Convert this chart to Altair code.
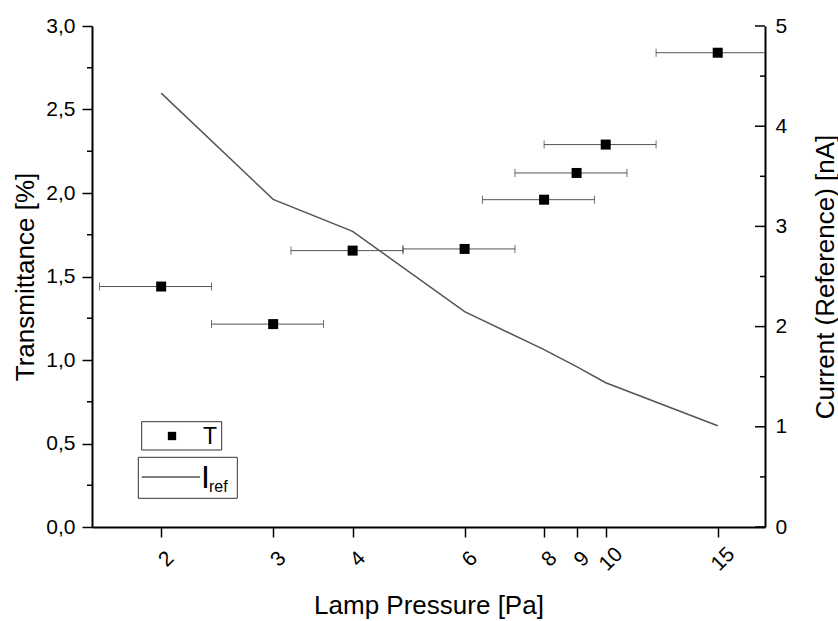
import altair as alt
import pandas as pd

# ---- data ----
pressure = [2, 3, 4, 6, 8, 9, 10, 15]
transmittance = [1.44, 1.215, 1.655, 1.665, 1.96, 2.12, 2.29, 2.84]
pressure_err = [0.4, 0.6, 0.8, 1.2, 1.6, 1.8, 2.0, 3.0]
current_ref = [4.33, 3.27, 2.95, 2.15, 1.77, 1.60, 1.44, 1.01]

x_ticks = [2, 3, 4, 6, 8, 9, 10, 15]
x_domain = [1.557, 17.8]
left_major = [0, 0.5, 1.0, 1.5, 2.0, 2.5, 3.0]
left_minor = [0.25, 0.75, 1.25, 1.75, 2.25, 2.75]
right_major = [0, 1, 2, 3, 4, 5]
right_minor = [0.5, 1.5, 2.5, 3.5, 4.5]

W, H = 673, 501
FONT = "Liberation Sans"

df = pd.DataFrame({
    "p": pressure,
    "T": transmittance,
    "lo": [p - e for p, e in zip(pressure, pressure_err)],
    "hi": [p + e for p, e in zip(pressure, pressure_err)],
    "I": current_ref,
})
caps = pd.concat([
    pd.DataFrame({"x": df["lo"], "T": df["T"]}),
    pd.DataFrame({"x": df["hi"], "T": df["T"]}),
])

xscale = alt.Scale(type="log", domain=x_domain, nice=False)
lscale = alt.Scale(domain=[0, 3], nice=False)
rscale = alt.Scale(domain=[0, 5], nice=False)

xaxis = alt.Axis(
    values=x_ticks, title="Lamp Pressure [Pa]", labelAngle=315,
    labelAlign="center", labelBaseline="middle", labelPadding=22, labelOffset=5,
    tickSize=10, grid=False, titleY=86, titleBaseline="alphabetic",
)
laxis = alt.Axis(
    values=left_major, title="Transmittance [%]", tickSize=10, labelPadding=7,
    grid=False, titleX=-59, titleBaseline="alphabetic",
    labelExpr="replace(format(datum.value, '.1f'), '.', ',')",
)
raxis = alt.Axis(
    values=right_major, orient="right", title="Current (Reference) [nA]",
    ticks=False, labelPadding=10, grid=False, format="d",
    titleX=68, titleBaseline="alphabetic", titleAngle=270,
)

base = alt.Chart(df)

# ---- transmittance (left axis) ----
err = base.mark_rule(color="#555555", strokeWidth=1, clip=True).encode(
    x=alt.X("lo:Q", scale=xscale, axis=xaxis),
    x2="hi:Q",
    y=alt.Y("T:Q", scale=lscale, axis=None),
)
capm = alt.Chart(caps).mark_tick(orient="vertical", size=8, thickness=1,
                                  color="#333333", clip=True).encode(
    x=alt.X("x:Q", scale=xscale, axis=xaxis),
    y=alt.Y("T:Q", scale=lscale, axis=None),
)
pts = base.mark_square(size=100, color="black", opacity=1).encode(
    x=alt.X("p:Q", scale=xscale, axis=xaxis),
    y=alt.Y("T:Q", scale=lscale, axis=laxis),
)
lminor = alt.Chart(pd.DataFrame({"v": left_minor})).mark_rule(
    color="black", strokeWidth=1.5).encode(
    y=alt.Y("v:Q", scale=lscale, axis=None),
    x=alt.value(-5), x2=alt.value(0),
)

# ---- reference current (right axis) ----
line = base.mark_line(color="#555555", strokeWidth=1.5).encode(
    x=alt.X("p:Q", scale=xscale, axis=xaxis),
    y=alt.Y("I:Q", scale=rscale, axis=raxis),
)
rmajor = alt.Chart(pd.DataFrame({"v": right_major})).mark_rule(
    color="black", strokeWidth=1.5).encode(
    y=alt.Y("v:Q", scale=rscale, axis=None),
    x=alt.value(W - 10), x2=alt.value(W),
)
rminor = alt.Chart(pd.DataFrame({"v": right_minor})).mark_rule(
    color="black", strokeWidth=1.5).encode(
    y=alt.Y("v:Q", scale=rscale, axis=None),
    x=alt.value(W - 5), x2=alt.value(W),
)

# ---- legend (drawn boxes) ----
one = alt.Data(values=[{"k": 1}])
box1 = alt.Chart(one).mark_rect(fill="white", stroke="#333333", strokeWidth=1).encode(
    x=alt.value(49.7), x2=alt.value(129.7), y=alt.value(395.7), y2=alt.value(424))
sq = alt.Chart(one).mark_square(size=70, color="black", opacity=1).encode(
    x=alt.value(80), y=alt.value(410))
t1 = alt.Chart(one).mark_text(text="T", font=FONT, fontSize=23, align="left",
                               baseline="alphabetic", color="black").encode(
    x=alt.value(111), y=alt.value(418.3))
box2 = alt.Chart(one).mark_rect(fill="white", stroke="#333333", strokeWidth=1).encode(
    x=alt.value(46.3), x2=alt.value(145.3), y=alt.value(431.3), y2=alt.value(472.3))
lg = alt.Chart(one).mark_rule(color="#555555", strokeWidth=1.5).encode(
    x=alt.value(49.7), x2=alt.value(108), y=alt.value(451))
t2 = alt.Chart(one).mark_text(text="I", font=FONT, fontSize=32, align="left",
                               baseline="alphabetic", color="black").encode(
    x=alt.value(109), y=alt.value(462.3))
t3 = alt.Chart(one).mark_text(text="ref", font=FONT, fontSize=16, align="left",
                               baseline="alphabetic", color="black").encode(
    x=alt.value(117), y=alt.value(466))

chart = alt.layer(
    err, capm, pts, lminor, line, rmajor, rminor,
    box1, sq, t1, box2, lg, t2, t3
).resolve_scale(y="independent").properties(
    width=W, height=H,
    autosize=alt.AutoSizeParams(type="none"),
    padding={"left": 92, "top": 26, "right": 838 - 92 - W, "bottom": 621 - 26 - H},
    background="white",
).configure_view(stroke=None).configure_axis(
    labelFont=FONT, titleFont=FONT, labelFontSize=21, titleFontSize=26,
    labelColor="black", titleColor="black", titleFontWeight="normal",
    domainColor="black", domainWidth=2, tickColor="black", tickWidth=1.5,
)

chart.save("out.html", embed_options={"renderer": "svg", "actions": False})
